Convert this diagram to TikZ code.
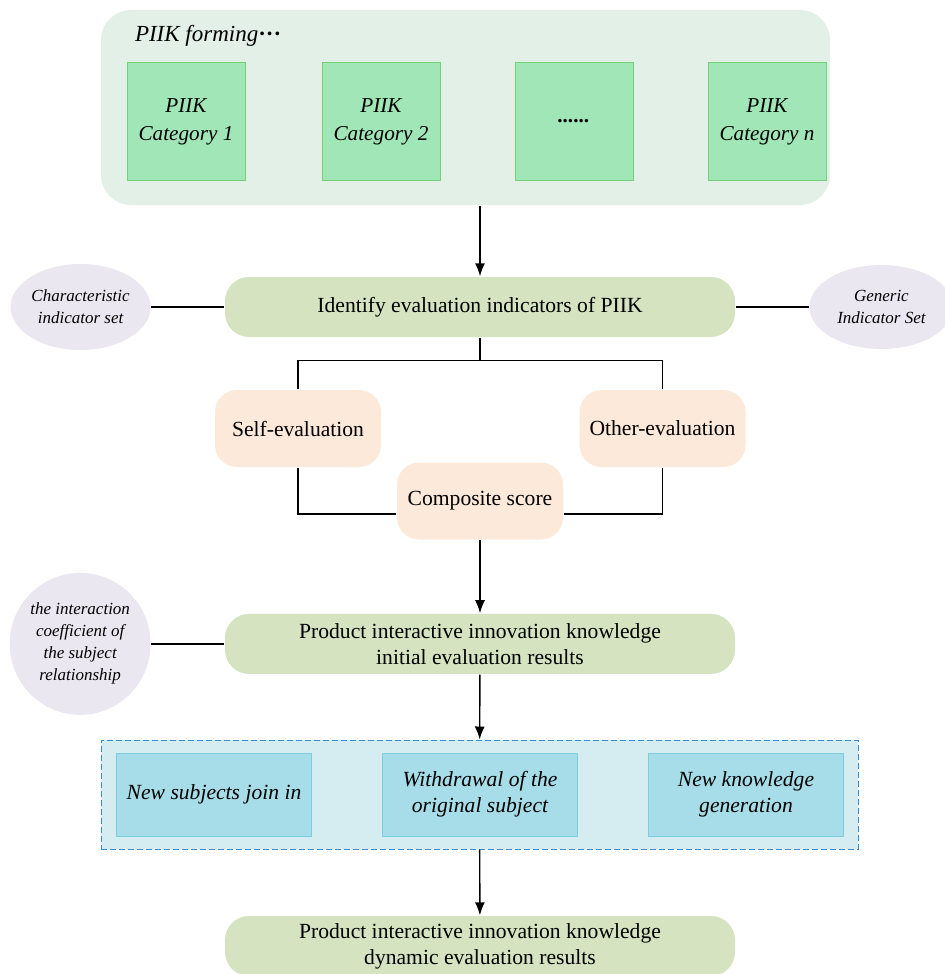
\documentclass[tikz,border=0pt]{standalone}
\usepackage{fontspec}
\setmainfont{Liberation Serif}
\usepackage{tikz}
\usetikzlibrary{arrows.meta,positioning,calc,shapes.geometric}
\definecolor{FormBg}{RGB}{226,240,231}
\definecolor{CatFill}{RGB}{161,230,182}
\definecolor{CatLine}{RGB}{118,208,118}
\definecolor{MainGreen}{RGB}{213,227,192}
\definecolor{SetLilac}{RGB}{235,231,240}
\definecolor{Peach}{RGB}{253,233,218}
\definecolor{ChangeBg}{RGB}{213,236,240}
\definecolor{ChangeLine}{RGB}{52,140,215}
\definecolor{SubFill}{RGB}{166,221,232}
\definecolor{SubLine}{RGB}{122,206,224}

\begin{document}
\begin{tikzpicture}[>={Latex[length=6.5pt,width=5pt]},line width=0.7pt,node distance=35pt,every node/.style={font=\fontsize{10.8}{13}\selectfont}]
\tikzset{mblock/.style={fill=MainGreen,rounded corners=12pt,minimum width=255pt,minimum height=30pt,align=center},
  catbox/.style={draw=CatLine,fill=CatFill,line width=0.5pt,minimum width=59pt,minimum height=58.5pt,align=center,font=\itshape\fontsize{10.6}{14}\selectfont},
  setell/.style={ellipse,fill=SetLilac,minimum width=70pt,minimum height=43pt,inner sep=0pt,align=center,font=\itshape\fontsize{8.5}{11}\selectfont},
  pbox/.style={fill=Peach,rounded corners=11pt,minimum width=83pt,minimum height=38.5pt,align=center},
  subbox/.style={draw=SubLine,fill=SubFill,line width=0.5pt,minimum width=97.5pt,minimum height=41.5pt,align=center,font=\itshape\fontsize{10.8}{13}\selectfont}}
\useasboundingbox (0,0) rectangle (472.5pt,-487pt);
% forming stage
\node[fill=FormBg,rounded corners=15pt,minimum width=364.5pt,minimum height=97.5pt] (forming) at (232.75pt,-53.75pt) {};
\node[anchor=west,inner sep=0pt,font=\itshape\fontsize{11.5}{13}\selectfont] (formtitle) at ([xshift=17pt,yshift=-13.5pt]forming.north west) {PIIK forming{\upshape\bfseries\textperiodcentered\textperiodcentered\textperiodcentered}};
\node[catbox] (cat1) at (93pt,-60.75pt) {PIIK\\Category 1};
\node[catbox,right=38pt of cat1] (cat2) {PIIK\\Category 2};
\node[catbox,right=37pt of cat2] (cat3) {\textbf{......}};
\node[catbox,right=37pt of cat3] (catn) {PIIK\\Category \textit{n}};
% indicators
\node[mblock] (identify) at (240pt,-153.5pt) {Identify evaluation indicators of PIIK};
\node[setell,left=36.5pt of identify] (charset) {Characteristic\\indicator set};
\node[setell,right=36.5pt of identify,minimum width=72pt,minimum height=42pt] (genset) {Generic\\Indicator Set};
% scoring
\node[pbox] (self) at (149pt,-214.25pt) {Self-evaluation};
\node[pbox] (other) at (331.25pt,-214.25pt) {Other-evaluation};
\node[pbox] (composite) at (240pt,-250.5pt) {Composite score};
\node[mblock,below=36.5pt of composite] (initial) {Product interactive innovation knowledge\\initial evaluation results};
\node[setell,left=36.5pt of initial,minimum height=71pt] (interact) {the interaction\\coefficient of\\the subject\\relationship};
% dynamic changes
\node[fill=ChangeBg,draw=ChangeLine,line width=0.5pt,dash pattern=on 3pt off 1.5pt,minimum width=378.5pt,minimum height=54.5pt] (change) at (239.75pt,-397.25pt) {};
\node[subbox] (withdraw) at (240pt,-397.25pt) {Withdrawal of the\\original subject};
\node[subbox,left=35pt of withdraw] (join) {New subjects join in};
\node[subbox,right=35pt of withdraw] (newknow) {New knowledge\\generation};
\node[mblock] (dynamic) at (240pt,-473pt) {Product interactive innovation knowledge\\dynamic evaluation results};
% connectors
\draw[->] (identify.north |- forming.south) -- (identify.north);
\draw (charset) -- (identify);
\draw (identify) -- (genset);
\draw (identify.south) -- ++(0,-11.5pt) coordinate (split);
\draw (self.north) |- (split) -| (other.north);
\draw (self.south) |- ([yshift=-6.5pt]composite.west);
\draw (other.south) |- ([yshift=-6.5pt]composite.east);
\draw[->] (composite) -- (initial);
\draw (interact) -- (initial);
\draw[->] (initial) -- (change);
\draw[->] (change) -- (dynamic);
\end{tikzpicture}
\end{document}
